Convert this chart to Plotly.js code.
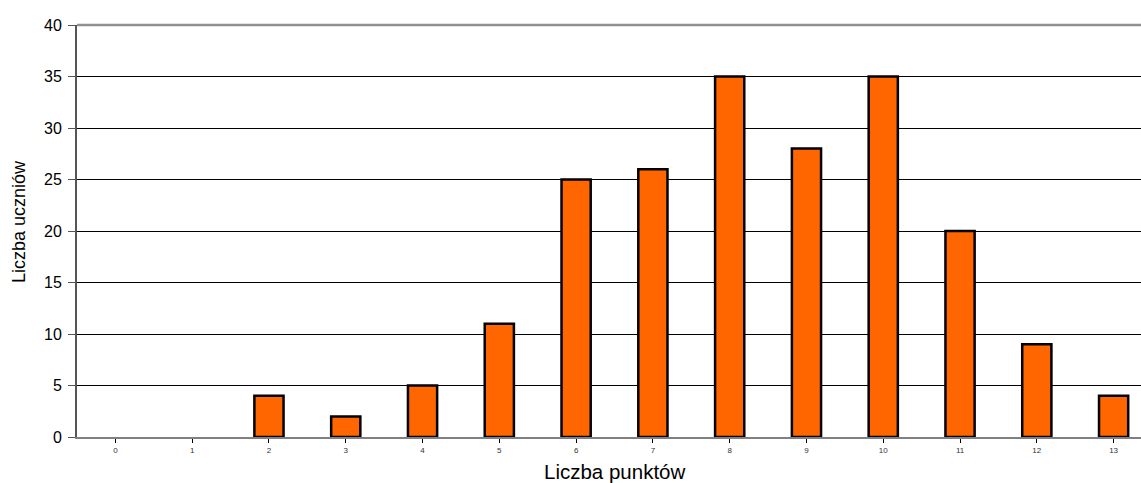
<!DOCTYPE html>
<html><head><meta charset="utf-8">
<script src="https://cdn.plot.ly/plotly-3.0.1.min.js"></script>
<style>html,body{margin:0;padding:0;overflow:hidden;background:#fff;width:1141px;height:483px}</style>
</head><body>
<div id="chart" style="width:1152px;height:483px"></div>
<script>
const categories = [0,1,2,3,4,5,6,7,8,9,10,11,12,13];
const counts = [0,0,4,2,5,11,25,26,35,28,35,20,9,4];
const yTicks = [0,5,10,15,20,25,30,35,40];
const xTitle = 'Liczba punktów';
const yTitle = 'Liczba uczniów';

const trace = {
  type: 'bar',
  x: categories,
  y: counts,
  width: 0.38,
  marker: {color: '#ff6600', line: {color: '#000000', width: counts.map(v => v > 0 ? 2.5 : 0)}},
  hoverinfo: 'x+y'
};

const layout = {
  width: 1152, height: 483,
  margin: {l: 77, r: 0, t: 25, b: 46, pad: 0},
  paper_bgcolor: '#ffffff', plot_bgcolor: '#ffffff',
  font: {family: 'Arial, "Liberation Sans", sans-serif', color: '#000'},
  showlegend: false,
  xaxis: {
    range: [-0.5, 13.5],
    tickmode: 'array', tickvals: categories, ticktext: categories.map(String),
    tickson: 'boundaries',
    ticks: 'outside', ticklen: 4, tickwidth: 1, tickcolor: '#000',
    tickfont: {size: 8, color: '#333'},
    showline: true, linecolor: '#808080', linewidth: 2,
    showgrid: false, zeroline: false
  },
  yaxis: {
    range: [0, 40],
    tickmode: 'array', tickvals: yTicks, ticktext: yTicks.map(String),
    ticks: 'outside', ticklen: 7, tickwidth: 1, tickcolor: '#555',
    ticklabelstandoff: 3,
    tickfont: {size: 16, color: '#000'},
    showline: true, linecolor: '#555', linewidth: 2,
    showgrid: true, gridcolor: '#000', gridwidth: 1,
    zeroline: false
  },
  annotations: [
    {text: xTitle, xref: 'paper', yref: 'paper', x: 0.5, y: -0.083,
     xanchor: 'center', yanchor: 'middle', showarrow: false,
     font: {size: 20.5, color: '#000'}},
    {text: yTitle, xref: 'paper', yref: 'paper', x: -0.054, y: 0.524,
     xanchor: 'center', yanchor: 'middle', textangle: -90, showarrow: false,
     font: {size: 18, color: '#000'}}
  ],
  shapes: [{type: 'line', xref: 'paper', yref: 'paper', x0: 0, x1: 1, y0: 1, y1: 1,
            line: {color: '#909090', width: 2.5}}]
};

Plotly.newPlot('chart', [trace], layout, {displayModeBar: false, staticPlot: true});
</script>
</body></html>
